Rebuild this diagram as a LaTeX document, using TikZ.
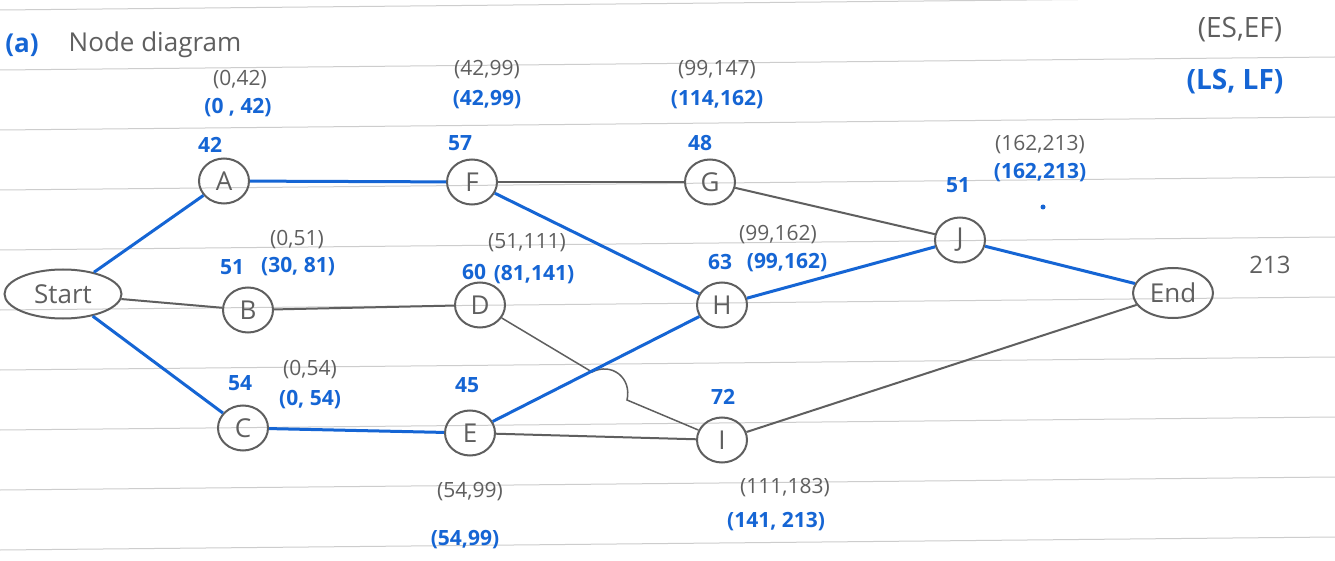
\documentclass[tikz,border=0pt]{standalone}
\usepackage{fontspec}
\setmainfont{Open Sans}
\usetikzlibrary{shapes.geometric}
\definecolor{pen}{RGB}{21,101,212}
\definecolor{pencil}{RGB}{95,95,95}
\definecolor{ruled}{RGB}{205,205,205}
\begin{document}
\begin{tikzpicture}[x=1pt,y=-1pt,
 nd/.style={ellipse,draw=pencil,line width=2pt,minimum width=50pt,minimum height=45pt,inner sep=0pt,text=pencil,font=\fontsize{26}{26}\selectfont},
 gl/.style={text=pencil,font=\fontsize{21}{22}\selectfont,inner sep=0pt},
 bl/.style={text=pen,font=\fontsize{21}{22}\selectfont\bfseries,inner sep=0pt},
 crit/.style={draw=pen,line width=3pt},
 norm/.style={draw=pencil,line width=2pt},
 ruleline/.style={draw=ruled,line width=1pt}]
\fill[white] (0,0) rectangle (1335,561);
\useasboundingbox (0,0) rectangle (1335,561);
% ruled paper
\foreach \k in {0,...,9}{
  \draw[ruleline] (0,{10+60*\k}) -- (1335,{-3+60*\k});
}
% nodes
\node[nd,minimum width=117pt,minimum height=49pt] (start) at (63,294) {Start};
\node[nd] (A) at (224,181) {A};
\node[nd] (B) at (248,310) {B};
\node[nd] (C) at (243,428) {C};
\node[nd] (F) at (472,182) {F};
\node[nd] (D) at (480,305) {D};
\node[nd] (E) at (470,433) {E};
\node[nd] (G) at (710,182) {G};
\node[nd] (H) at (722,305) {H};
\node[nd] (I) at (722,440) {I};
\node[nd] (J) at (960,240) {J};
\node[nd,minimum width=80pt,minimum height=50pt] (end) at (1173,293) {End};
% connectors
\draw[norm] (start) -- (B);
\draw[norm] (B) -- (D);
\draw[norm] (F) -- (G);
\draw[norm] (G) -- (J);
\draw[norm] (E) -- (I);
\draw[norm] (I) -- (end);
\coordinate (hopa) at (592,372);
\coordinate (hopb) at (627,400);
\draw[norm,line width=1.5pt] (D) -- (hopa) .. controls (612,362) and (632,378) .. (hopb) -- (I);
\draw[crit] (start) -- (A);
\draw[crit] (start) -- (C);
\draw[crit] (A) -- (F);
\draw[crit] (C) -- (E);
\draw[crit] (F) -- (H);
\draw[crit] (E) -- (H);
\draw[crit] (H) -- (J);
\draw[crit] (J) -- (end);
% title and legend
\node[bl,font=\fontsize{26}{28}\selectfont\bfseries] (ta) at (22,45) {(a)};
\node[gl,font=\fontsize{26}{28}\selectfont] (tn) at (155,45) {Node diagram};
\node[gl,font=\fontsize{28}{30}\selectfont] (les) at (1240,30) {(ES,EF)};
\node[bl,font=\fontsize{28}{30}\selectfont\bfseries] (lls) at (1235,82) {(LS, LF)};
% A
\node[gl] (ag) at (240,80) {(0,42)};
\node[bl] (ab) at (238,108) {(0 , 42)};
\node[bl] (ad) at (210,145) {42};
% F
\node[gl] (fg) at (487,70) {(42,99)};
\node[bl] (fb) at (487,100) {(42,99)};
\node[bl] (fd) at (460,143) {57};
% G
\node[gl] (gg) at (717,70) {(99,147)};
\node[bl] (gb) at (717,100) {(114,162)};
\node[bl] (gd) at (700,143) {48};
% J
\node[gl] (jg) at (1040,145) {(162,213)};
\node[bl] (jb) at (1040,173) {(162,213)};
\node[bl] (jd) at (958,185) {51};
\fill[pen] (1043,207) circle (2.5pt);
% End
\node[gl,font=\fontsize{24}{26}\selectfont] (eg) at (1270,265) {213};
% B
\node[gl] (bg) at (297,240) {(0,51)};
\node[bl] (bd) at (232,267) {51};
\node[bl] (bb) at (298,267) {(30, 81)};
% D
\node[gl] (dg) at (527,243) {(51,111)};
\node[bl] (dd) at (474,272) {60};
\node[bl] (db) at (534,275) {(81,141)};
% H
\node[gl] (hg) at (778,235) {(99,162)};
\node[bl] (hd) at (720,262) {63};
\node[bl] (hb) at (787,263) {(99,162)};
% C
\node[gl] (cg) at (310,370) {(0,54)};
\node[bl] (cd) at (240,383) {54};
\node[bl] (cb) at (310,400) {(0, 54)};
% E
\node[gl] (eg2) at (470,492) {(54,99)};
\node[bl] (ed) at (467,385) {45};
\node[bl] (eb) at (465,540) {(54,99)};
% I
\node[gl] (ig) at (785,488) {(111,183)};
\node[bl] (id) at (723,397) {72};
\node[bl] (ib) at (776,522) {(141, 213)};
\end{tikzpicture}
\end{document}
